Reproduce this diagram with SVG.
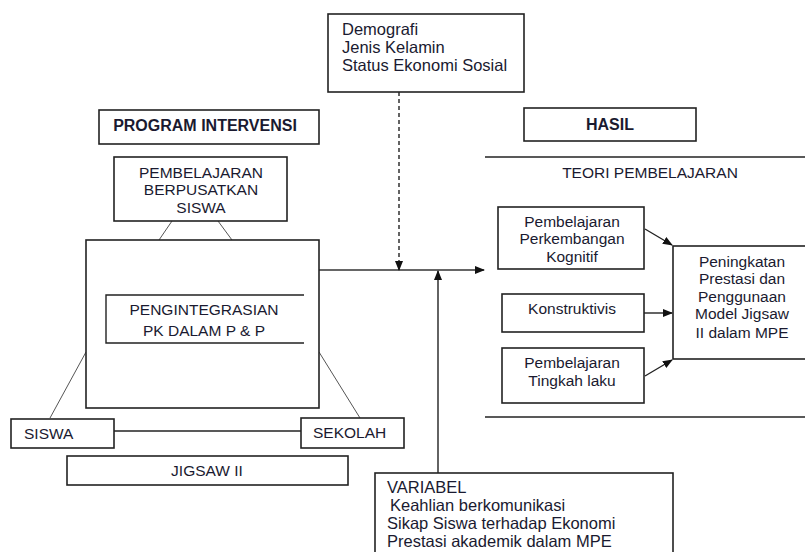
<svg xmlns="http://www.w3.org/2000/svg" width="805" height="552" viewBox="0 0 805 552">
<style>
.box{fill:#fff;stroke:#222;stroke-width:1.6}
.ln{fill:none;stroke:#222;stroke-width:1.4}
.thin{fill:none;stroke:#555;stroke-width:1}
text{font-family:"Liberation Sans",Arial,sans-serif;font-size:15.5px;fill:#1a1a30}
.b{font-weight:bold;font-size:16px}
.w{font-size:16.5px}
.c{text-anchor:middle}
</style>
<defs>
<marker id="ah" markerWidth="10" markerHeight="8" refX="9" refY="4" orient="auto" markerUnits="userSpaceOnUse">
<path d="M0,0 L10,4 L0,8 Z" fill="#111"/>
</marker>
</defs>
<rect width="805" height="552" fill="#fff"/>

<g id="connectors">
<line class="thin" x1="172" y1="221" x2="159" y2="240"/>
<line class="thin" x1="218" y1="221" x2="232" y2="240"/>
<line class="thin" x1="86" y1="352" x2="50" y2="418"/>
<line class="thin" x1="319" y1="352" x2="360" y2="418"/>
<line class="ln" x1="114" y1="431" x2="301" y2="431"/>
<line x1="319" y1="270" x2="484" y2="270" stroke="#666" stroke-width="2" marker-end="url(#ah)"/>
<line class="ln" x1="399" y1="92" x2="399" y2="270" stroke-dasharray="4,3" stroke-width="1.8" marker-end="url(#ah)"/>
<line class="ln" x1="438" y1="473" x2="438" y2="271" stroke-width="1.6" marker-end="url(#ah)"/>
<line class="ln" x1="645" y1="229" x2="672" y2="245" marker-end="url(#ah)"/>
<line class="ln" x1="644" y1="313" x2="672" y2="313" marker-end="url(#ah)"/>
<line class="ln" x1="645" y1="376" x2="672" y2="360" marker-end="url(#ah)"/>
<line class="ln" x1="485" y1="157" x2="805" y2="157"/>
<line class="ln" x1="485" y1="417" x2="805" y2="417"/>
</g>

<g id="demografi">
<rect class="box" x="328" y="14" width="196" height="78"/>
<text class="w" x="342" y="35">Demografi</text>
<text class="w" x="342" y="53">Jenis Kelamin</text>
<text class="w" x="342" y="71">Status Ekonomi Sosial</text>
</g>

<g id="program-intervensi">
<rect class="box" x="99" y="110" width="220" height="34"/>
<text class="b c" x="205" y="131">PROGRAM INTERVENSI</text>
</g>

<g id="hasil">
<rect class="box" x="524" y="108" width="172" height="33"/>
<text class="b c" x="610" y="130">HASIL</text>
</g>

<g id="teori">
<text class="c" x="650" y="178">TEORI PEMBELAJARAN</text>
</g>

<g id="pembelajaran-siswa">
<rect class="box" x="114" y="157" width="173" height="64"/>
<text class="c" x="201" y="178">PEMBELAJARAN</text>
<text class="c" x="201" y="195">BERPUSATKAN</text>
<text class="c" x="201" y="213">SISWA</text>
</g>

<g id="big-box">
<rect class="box" x="86" y="240" width="233" height="168"/>
</g>

<g id="pengintegrasian">
<path class="ln" d="M304,295 H106 V343 H304" stroke-width="1.6"/>
<text class="c" x="204" y="315">PENGINTEGRASIAN</text>
<text class="c" x="204" y="336">PK DALAM P &amp; P</text>
</g>

<g id="siswa">
<rect class="box" x="11" y="419" width="103" height="29"/>
<text x="24" y="439">SISWA</text>
</g>

<g id="sekolah">
<rect class="box" x="301" y="418" width="103" height="30"/>
<text x="313" y="438">SEKOLAH</text>
</g>

<g id="jigsaw">
<rect class="box" x="67" y="456" width="281" height="29"/>
<text class="c" x="207" y="476">JIGSAW II</text>
</g>

<g id="kognitif">
<rect class="box" x="498" y="207" width="146" height="62"/>
<text class="c" x="572" y="227">Pembelajaran</text>
<text class="c" x="572" y="244">Perkembangan</text>
<text class="c" x="572" y="262">Kognitif</text>
</g>

<g id="konstruktivis">
<rect class="box" x="502" y="294" width="142" height="38"/>
<text class="c" x="572" y="314">Konstruktivis</text>
</g>

<g id="tingkah-laku">
<rect class="box" x="502" y="348" width="142" height="55"/>
<text class="c" x="572" y="368">Pembelajaran</text>
<text class="c" x="572" y="386">Tingkah laku</text>
</g>

<g id="peningkatan">
<rect class="box" x="673" y="246" width="140" height="113"/>
<text class="c" x="742" y="267">Peningkatan</text>
<text class="c" x="742" y="284">Prestasi dan</text>
<text class="c" x="742" y="302">Penggunaan</text>
<text class="c" x="742" y="319">Model Jigsaw</text>
<text class="c" x="742" y="338">II dalam MPE</text>
</g>

<g id="variabel">
<rect class="box" x="375" y="473" width="298" height="90"/>
<text class="w" x="387" y="493">VARIABEL</text>
<text class="w" x="390" y="511">Keahlian berkomunikasi</text>
<text class="w" x="387" y="529">Sikap Siswa terhadap Ekonomi</text>
<text class="w" x="387" y="547">Prestasi akademik dalam MPE</text>
</g>
</svg>
